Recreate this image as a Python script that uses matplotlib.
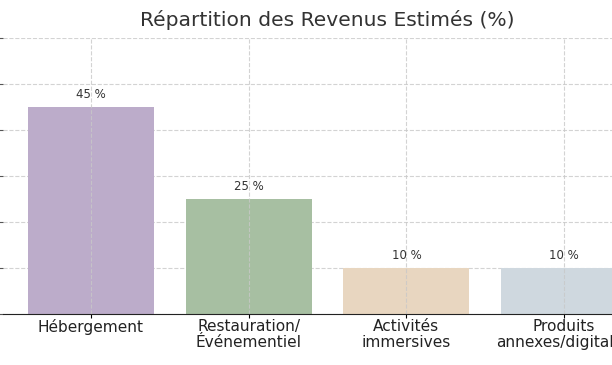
import matplotlib
matplotlib.use("Agg")
import matplotlib.pyplot as plt

categories = ["Hébergement", "Restauration/\nÉvénementiel", "Activités\nimmersives",
              "Produits\nannexes/digitales"]
shares = [45, 25, 10, 10]
colors = ["#bcacca", "#a7bfa2", "#e8d6c0", "#cfd8df"]

W, H = 612, 365
fig = plt.figure(figsize=(W / 100, H / 100), dpi=100)
# the axes run past the right figure edge, as in the reference crop
ax = fig.add_axes([3 / W, 51 / H, 649 / W, 276 / H])

x = range(len(categories))
ax.bar(x, shares, width=0.8, color=colors, zorder=1)
for xi, v in zip(x, shares):
    ax.text(xi, v + 1.2, f"{v} %", ha="center", va="bottom", fontsize=8.5, color="#333333")

ax.set_xticks(list(x))
ax.set_xticklabels(categories, fontsize=11.1, color="#222222", linespacing=1.05)
ax.set_xlim(-0.557, 3.557)
ax.set_ylim(0, 60)
ax.set_yticks(range(0, 61, 10))
ax.grid(True, linestyle="--", color="#c8c8c8", linewidth=0.8, alpha=0.8)
# vertical grid lines show faintly across the bars, horizontal ones stay behind
ax.xaxis.set_zorder(2)
ax.yaxis.set_zorder(0.5)
for side in ("top", "right", "left"):
    ax.spines[side].set_visible(False)
ax.spines["bottom"].set_color("#222222")
ax.spines["bottom"].set_zorder(3)
ax.tick_params(axis="x", length=3, pad=0.8)
ax.tick_params(axis="y", colors="#555555", labelsize=10, length=3)
ax.set_title("Répartition des Revenus Estimés (%)", fontsize=14.6, color="#333333", pad=9)

fig.savefig("out.png", dpi=100)
